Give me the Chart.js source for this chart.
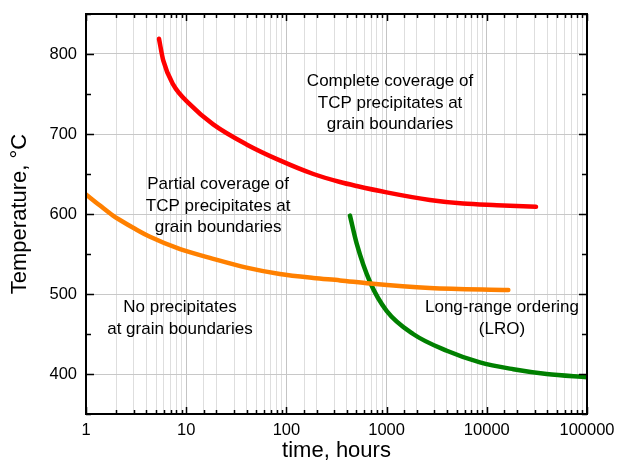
<!DOCTYPE html>
<html><head><meta charset="utf-8">
<script src="https://cdn.jsdelivr.net/npm/chart.js@4"></script>
<style>html,body{margin:0;padding:0;background:#fff}</style>
</head><body>
<canvas id="c" width="619" height="465"></canvas>
<script>
// Data (time in hours, temperature in °C)
const redTime = [5.35, 5.9, 7.4, 10.9, 18.6, 40, 86, 186, 343, 503, 1000, 2700, 5800, 12600, 31000];
const redTemp = [819, 792, 762, 737, 712, 687, 667, 650, 640, 635, 627, 617.5, 613, 611, 609];

const orangeTime = [1, 1.38, 1.86, 2.18, 3.08, 4.35, 8.7, 18.6, 40, 86, 186, 343, 683, 2700, 16400];
const orangeTemp = [624.5, 610.5, 598, 592.5, 581.5, 571.5, 556, 544, 533, 525, 520, 517, 513, 507.5, 505];

const greenTime = [431, 503, 683, 1000, 1840, 3990, 8540, 18400, 39600, 100000];
const greenTemp = [598, 563, 515, 479, 450, 429, 414.5, 406, 400, 396];

const xTickLabels = [1, 10, 100, 1000, 10000, 100000];
const yTickLabels = [400, 500, 600, 700, 800];

const labelTexts = [
  ["Complete coverage of", "TCP precipitates at", "grain boundaries"],
  ["Partial coverage of", "TCP precipitates at", "grain boundaries"],
  ["No precipitates", "at grain boundaries"],
  ["Long-range ordering", "(LRO)"]
];
const labelTime = [1082, 20.8, 8.67, 14180];
const labelTemp = [765.4, 636.6, 482.9, 483.3];

const FONT = "'Liberation Sans', Arial, sans-serif";
const isPow10 = v => Math.abs(Math.log10(v) - Math.round(Math.log10(v))) < 1e-9;
const pts = (xs, ys) => xs.map((x, i) => ({x, y: ys[i]}));

const framePlugin = {
  id: 'frame',
  afterDatasetsDraw(chart) {
    const {ctx, chartArea: a, scales: {x, y}} = chart;
    ctx.save();
    ctx.fillStyle = '#000';
    ctx.font = '17px ' + FONT;
    ctx.textAlign = 'center';
    ctx.textBaseline = 'middle';
    labelTexts.forEach((lines, i) => {
      const px = x.getPixelForValue(labelTime[i]);
      const py = y.getPixelForValue(labelTemp[i]);
      lines.forEach((t, j) => ctx.fillText(t, px, py + j * 21.5));
    });
    ctx.strokeStyle = '#000';
    ctx.lineWidth = 1.5;
    ctx.beginPath();
    x.ticks.forEach(t => {
      const px = Math.round(x.getPixelForValue(t.value)) + 0.5;
      const len = isPow10(t.value) ? 7 : 4;
      ctx.moveTo(px, a.bottom); ctx.lineTo(px, a.bottom - len);
      ctx.moveTo(px, a.top); ctx.lineTo(px, a.top + len);
    });
    y.ticks.forEach(t => {
      const py = Math.round(y.getPixelForValue(t.value)) + 0.5;
      const len = t.value % 100 === 0 ? 8 : 5;
      ctx.moveTo(a.left, py); ctx.lineTo(a.left + len, py);
      ctx.moveTo(a.right, py); ctx.lineTo(a.right - len, py);
    });
    ctx.stroke();
    ctx.lineWidth = 2;
    ctx.strokeRect(a.left, a.top, a.right - a.left, a.bottom - a.top);
    ctx.restore();
  }
};

const ds = (xs, ys, color) => ({
  data: pts(xs, ys),
  borderColor: color,
  backgroundColor: color,
  borderWidth: 4.5,
  pointRadius: 0,
  fill: false,
  cubicInterpolationMode: 'monotone',
  borderCapStyle: 'round'
});

new Chart(document.getElementById('c'), {
  type: 'line',
  data: {
    datasets: [
      ds(redTime, redTemp, '#ff0000'),
      ds(orangeTime, orangeTemp, '#ff8000'),
      ds(greenTime, greenTemp, '#008000')
    ]
  },
  options: {
    responsive: false,
    animation: false,
    layout: {padding: {left: 0, top: 14, right: 32, bottom: 0}},
    plugins: {legend: {display: false}, tooltip: {enabled: false}},
    scales: {
      x: {
        type: 'logarithmic',
        min: 1, max: 100000,
        afterFit: s => { s.height = 51; s.paddingLeft = 0; s.paddingRight = 0; },
        border: {display: false},
        grid: {
          drawTicks: false,
          color: c => (c.tick && isPow10(c.tick.value)) ? '#c4c4c4' : '#dedede',
          lineWidth: 1
        },
        ticks: {
          autoSkip: false, maxRotation: 0, padding: 7,
          color: '#000',
          font: {family: FONT, size: 16.5},
          callback: v => xTickLabels.includes(v) ? String(v) : ''
        },
        title: {
          display: true, text: 'time, hours', color: '#000',
          font: {family: FONT, size: 22}, padding: {top: 0, bottom: 1}
        }
      },
      y: {
        type: 'linear',
        min: 350, max: 850,
        afterFit: s => { s.width = 86; s.paddingTop = 0; s.paddingBottom = 0; },
        border: {display: false},
        grid: {
          drawTicks: false,
          color: c => (c.tick && c.tick.value % 100 === 0) ? '#c8c8c8' : 'rgba(0,0,0,0)',
          lineWidth: 1
        },
        ticks: {
          stepSize: 50, padding: 9, color: '#000',
          font: {family: FONT, size: 16.5},
          callback: v => yTickLabels.includes(v) ? String(v) : ''
        },
        title: {
          display: true, text: 'Temperature, °C', color: '#000',
          font: {family: FONT, size: 22}, padding: {top: 7, bottom: 0}
        }
      }
    }
  },
  plugins: [framePlugin]
});
</script>
</body></html>
